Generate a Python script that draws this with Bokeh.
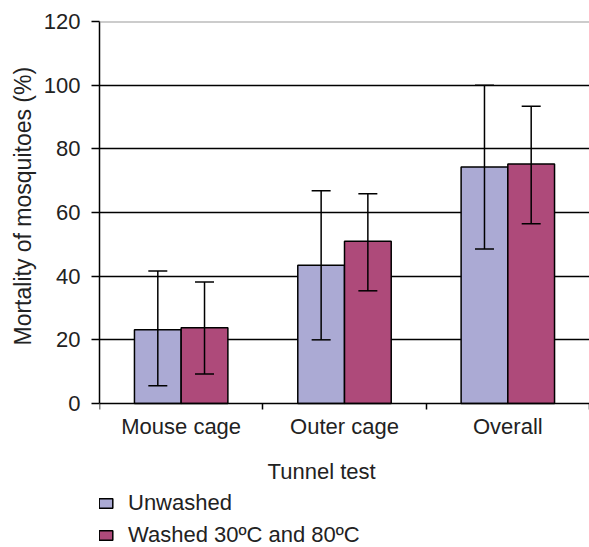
from bokeh.plotting import figure
from bokeh.models import (ColumnDataSource, FixedTicker, Whisker, TeeHead, Legend,
                          LegendItem, Label, Span, Range1d, Title)
from bokeh.embed import file_html
from bokeh.resources import INLINE

categories = ["Mouse cage", "Outer cage", "Overall"]
unwashed = [23.2, 43.4, 74.3]
unwashed_lo = [5.6, 20.0, 48.5]
unwashed_hi = [41.6, 66.8, 100.0]
washed = [23.8, 51.0, 75.2]
washed_lo = [9.3, 35.4, 56.5]
washed_hi = [38.2, 65.9, 93.4]
y_ticks = [0, 20, 40, 60, 80, 100, 120]

FONT = "Liberation Sans"
FS = "22px"
TXT = "#222222"
BAR_W = 0.286

# layout: plot area 382 px tall for 0..120, extra room below for labels/legend
W, H, TOP, LEFT = 589, 547, 21, 99
PX_PER_UNIT = 382 / 120
y_min = 120 - (H - TOP) / PX_PER_UNIT

centers = [i + 0.5 for i in range(len(categories))]
src_u = ColumnDataSource(dict(x=[c - BAR_W / 2 for c in centers], top=unwashed,
                              lo=unwashed_lo, hi=unwashed_hi))
src_w = ColumnDataSource(dict(x=[c + BAR_W / 2 for c in centers], top=washed,
                              lo=washed_lo, hi=washed_hi))

p = figure(width=W, height=H, output_backend="svg", toolbar_location=None,
           x_range=Range1d(0, len(categories)), y_range=Range1d(y_min, 120),
           min_border_left=LEFT, min_border_right=0, min_border_top=TOP,
           min_border_bottom=0)
p.outline_line_color = None
p.background_fill_color = "white"
p.border_fill_color = "white"

r_u = p.vbar(x="x", top="top", bottom=0, width=BAR_W, source=src_u,
             fill_color="#ABAAD4", line_color="black", line_width=1.5)
r_w = p.vbar(x="x", top="top", bottom=0, width=BAR_W, source=src_w,
             fill_color="#AE4A7A", line_color="black", line_width=1.5)

for src in (src_u, src_w):
    w = Whisker(base="x", lower="lo", upper="hi", source=src, level="overlay",
                line_color="black", line_width=1.5,
                upper_head=TeeHead(size=19, line_color="black", line_width=1.5),
                lower_head=TeeHead(size=19, line_color="black", line_width=1.5))
    p.add_layout(w)

# grid
p.xgrid.visible = False
p.ygrid.ticker = FixedTicker(ticks=y_ticks[1:-1])
p.ygrid.grid_line_color = "black"
p.ygrid.grid_line_width = 1.3
p.add_layout(Span(location=y_ticks[-1], dimension="width", line_color="#999999",
                  line_width=2))

# y axis
p.yaxis.bounds = (y_ticks[0], y_ticks[-1])
p.yaxis.ticker = FixedTicker(ticks=y_ticks)
p.yaxis.axis_line_color = "black"
p.yaxis.axis_line_width = 1.5
p.yaxis.major_tick_line_color = "black"
p.yaxis.major_tick_line_width = 1.5
p.yaxis.major_tick_out = 8
p.yaxis.major_tick_in = 0
p.yaxis.minor_tick_line_color = None
p.yaxis.major_label_standoff = 11
p.yaxis.major_label_text_font = FONT
p.yaxis.major_label_text_font_size = FS
p.yaxis.major_label_text_color = TXT

p.add_layout(Title(text="Mortality of mosquitoes (%)", align="left", offset=202,
                   standoff=10, text_font=FONT, text_font_size="23px",
                   text_font_style="normal", text_color=TXT), "left")

# x axis, drawn at y = 0
p.xaxis.fixed_location = 0
p.xaxis.ticker = FixedTicker(ticks=centers, minor_ticks=list(range(len(categories) + 1)))
p.xaxis.major_label_overrides = {c: name for c, name in zip(centers, categories)}
p.xaxis.major_tick_line_color = None
p.xaxis.minor_tick_line_color = "black"
p.xaxis.minor_tick_line_width = 1.5
p.xaxis.minor_tick_out = 6
p.xaxis.minor_tick_in = 0
p.xaxis.axis_line_color = "black"
p.xaxis.axis_line_width = 1.5
p.xaxis.major_label_standoff = 4
p.xaxis.major_label_text_font = FONT
p.xaxis.major_label_text_font_size = FS
p.xaxis.major_label_text_color = TXT

p.add_layout(Label(x=1.36, y=-17.4, text="Tunnel test", text_align="center",
                   text_baseline="top", text_font=FONT, text_font_size=FS,
                   text_color=TXT))

legend = Legend(items=[LegendItem(label="Unwashed", renderers=[r_u]),
                       LegendItem(label="Washed 30ºC and 80ºC", renderers=[r_w])],
                location=(-2, -1), orientation="vertical",
                glyph_width=17, glyph_height=12, label_height=22,
                label_standoff=14, spacing=6, padding=0, margin=0,
                border_line_color=None, background_fill_alpha=0,
                label_text_font=FONT, label_text_font_size=FS,
                label_text_color=TXT)
p.add_layout(legend)

open("out.html", "w").write(file_html(p, INLINE))
